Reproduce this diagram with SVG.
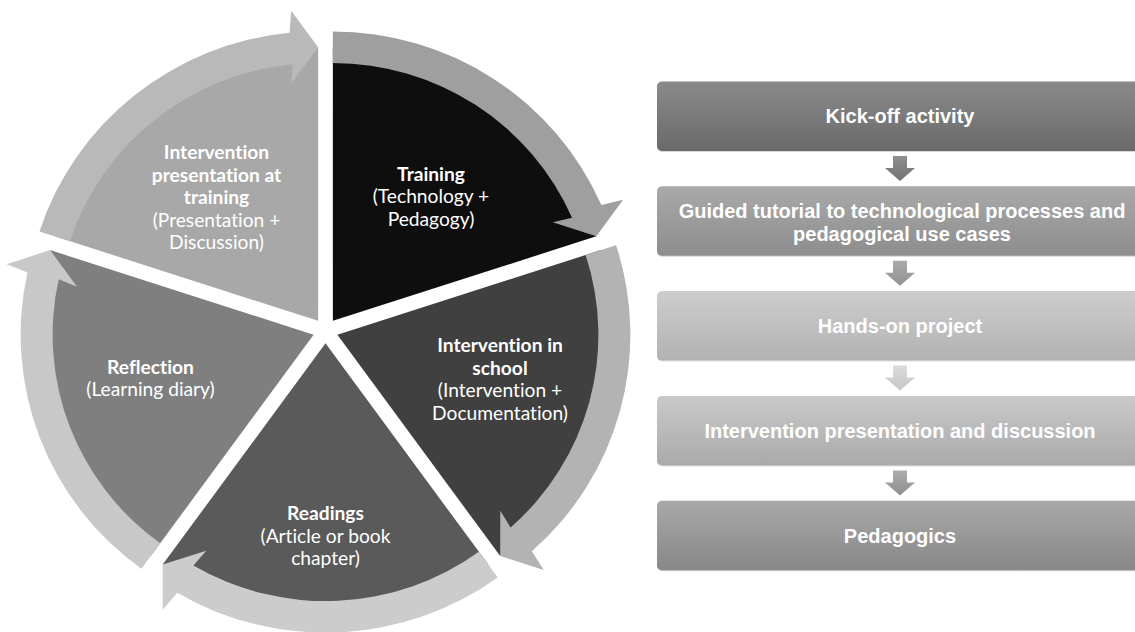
<svg xmlns="http://www.w3.org/2000/svg" xmlns:xlink="http://www.w3.org/1999/xlink" width="1135" height="632" viewBox="0 0 1135 632">
  <style>
    .wl { font-family: Lato, "Liberation Sans", sans-serif; font-size: 19.2px; fill: #ffffff; text-anchor: middle; font-variant-ligatures: none; }
    .b { font-weight: 700; }
    .bt { font-family: "Liberation Sans", Arial, sans-serif; font-weight: 700; font-size: 20px; fill: #ffffff; text-anchor: middle; }
  </style>
  <defs>
    <linearGradient id="g1" x1="0" y1="0" x2="0" y2="1"><stop offset="0" stop-color="#8a8a8a"/><stop offset="1" stop-color="#6a6a6a"/></linearGradient>
    <linearGradient id="g2" x1="0" y1="0" x2="0" y2="1"><stop offset="0" stop-color="#a9a9a9"/><stop offset="1" stop-color="#8d8d8d"/></linearGradient>
    <linearGradient id="g3" x1="0" y1="0" x2="0" y2="1"><stop offset="0" stop-color="#cdcdcd"/><stop offset="1" stop-color="#b2b2b2"/></linearGradient>
    <linearGradient id="g4" x1="0" y1="0" x2="0" y2="1"><stop offset="0" stop-color="#c9c9c9"/><stop offset="1" stop-color="#aaaaaa"/></linearGradient>
    <linearGradient id="g5" x1="0" y1="0" x2="0" y2="1"><stop offset="0" stop-color="#a8a8a8"/><stop offset="1" stop-color="#888888"/></linearGradient>
    <linearGradient id="ga1" x1="0" y1="0" x2="0" y2="1"><stop offset="0" stop-color="#8e8e8e"/><stop offset="1" stop-color="#727272"/></linearGradient>
    <linearGradient id="ga2" x1="0" y1="0" x2="0" y2="1"><stop offset="0" stop-color="#ababab"/><stop offset="1" stop-color="#929292"/></linearGradient>
    <linearGradient id="ga3" x1="0" y1="0" x2="0" y2="1"><stop offset="0" stop-color="#dcdcdc"/><stop offset="1" stop-color="#c6c6c6"/></linearGradient>
    <linearGradient id="ga4" x1="0" y1="0" x2="0" y2="1"><stop offset="0" stop-color="#adadad"/><stop offset="1" stop-color="#8f8f8f"/></linearGradient>
    <!-- downward block arrow of the step list -->
    <path id="darrow" d="M-7,0 H7 V12 H15 L0,25 L-15,12 H-7 Z"/>
  </defs>

  <rect width="1135" height="632" fill="#ffffff"/>

  <!-- Segmented cycle: five exploded pie segments -->
  <g id="cycle-nodes">
    <g id="node-training">
      <path transform="matrix(1 0 0 0.988 0 0.372)" fill="#0e0e0e" d="M332.85,324.39 L332.85,47.39 A277,277 0 0 1 596.29,238.79 Z"/>
      <text class="wl"><tspan class="b" x="431" y="180.5">Training</tspan><tspan x="431" y="203">(Technology +</tspan><tspan x="431" y="225.5">Pedagogy)</tspan></text>
    </g>
    <g id="node-school">
      <path transform="matrix(1 0 0 0.988 0 0.372)" fill="#404040" d="M337.39,338.36 L600.83,252.76 A277,277 0 0 1 500.21,562.46 Z"/>
      <text class="wl"><tspan class="b" x="500" y="352">Intervention in</tspan><tspan class="b" x="500" y="374.5">school</tspan><tspan x="500" y="397">(Intervention +</tspan><tspan x="500" y="419.5">Documentation)</tspan></text>
    </g>
    <g id="node-readings">
      <path transform="matrix(1 0 0 0.988 0 0.372)" fill="#5a5a5a" d="M325.5,347 L488.32,571.10 A277,277 0 0 1 162.68,571.10 Z"/>
      <text class="wl"><tspan class="b" x="325.5" y="520">Readings</tspan><tspan x="325.5" y="542.5">(Article or book</tspan><tspan x="325.5" y="565">chapter)</tspan></text>
    </g>
    <g id="node-reflection">
      <path transform="matrix(1 0 0 0.988 0 0.372)" fill="#7f7f7f" d="M313.61,338.36 L150.79,562.46 A277,277 0 0 1 50.17,252.76 Z"/>
      <text class="wl"><tspan class="b" x="150.5" y="373.5">Reflection</tspan><tspan x="150.5" y="396">(Learning diary)</tspan></text>
    </g>
    <g id="node-presentation">
      <path transform="matrix(1 0 0 0.988 0 0.372)" fill="#a8a8a8" d="M318.15,324.39 L54.71,238.79 A277,277 0 0 1 318.15,47.39 Z"/>
      <text class="wl"><tspan class="b" x="216.5" y="159">Intervention</tspan><tspan class="b" x="216.5" y="181.5">presentation at</tspan><tspan class="b" x="216.5" y="204">training</tspan><tspan x="216.5" y="226.5">(Presentation +</tspan><tspan x="216.5" y="249">Discussion)</tspan></text>
    </g>
  </g>

  <!-- Curved arrows around each segment -->
  <g id="cycle-connectors" transform="matrix(1 0 0 0.988 0 0.372)">
    <path fill="#9f9f9f" d="M332.85,31.39 A293,293 0 0 1 601.38,207.16 L623.14,201.68 L596.29,238.79 L552.76,224.54 L572.05,219.96 A261,261 0 0 0 332.85,63.39 Z"/>
    <path fill="#b3b3b3" d="M616.05,247.82 A293,293 0 0 1 531.86,557.52 L543.80,576.52 L500.21,562.46 L500.30,516.66 L510.62,533.58 A261,261 0 0 0 585.62,257.71 Z"/>
    <path fill="#cccccc" d="M497.72,584.04 A293,293 0 0 1 177.17,599.68 L162.77,616.90 L162.68,571.10 L206.27,557.04 L193.37,572.08 A261,261 0 0 0 478.91,558.15 Z"/>
    <path fill="#c8c8c8" d="M141.39,575.40 A293,293 0 0 1 27.46,275.37 L6.64,267.01 L50.17,252.76 L77.02,289.87 L58.71,282.25 A261,261 0 0 0 160.20,549.51 Z"/>
    <path fill="#b9b9b9" d="M39.49,233.85 A293,293 0 0 1 289.63,32.78 L291.15,10.39 L318.15,47.39 L291.15,84.39 L292.75,64.63 A261,261 0 0 0 69.92,243.74 Z"/>
  </g>

  <!-- Step list -->
  <g id="step-kickoff">
    <rect x="657" y="82.5" width="486" height="69.5" rx="5" fill="#d4d4d4"/>
    <rect x="657" y="81.5" width="486" height="69.5" rx="5" fill="url(#g1)"/>
    <text class="bt" x="900" y="123.3">Kick-off activity</text>
  </g>
  <g id="step-tutorial">
    <rect x="657" y="187.3" width="486" height="69.5" rx="5" fill="#d4d4d4"/>
    <rect x="657" y="186.3" width="486" height="69.5" rx="5" fill="url(#g2)"/>
    <text class="bt"><tspan x="902" y="218">Guided tutorial to technological processes and</tspan><tspan x="902" y="241">pedagogical use cases</tspan></text>
  </g>
  <g id="step-handson">
    <rect x="657" y="292.1" width="486" height="69.5" rx="5" fill="#e2e2e2"/>
    <rect x="657" y="291.1" width="486" height="69.5" rx="5" fill="url(#g3)"/>
    <text class="bt" x="900" y="332.9">Hands-on project</text>
  </g>
  <g id="step-presentation">
    <rect x="657" y="396.9" width="486" height="69.5" rx="5" fill="#e2e2e2"/>
    <rect x="657" y="395.9" width="486" height="69.5" rx="5" fill="url(#g4)"/>
    <text class="bt" x="900" y="437.7">Intervention presentation and discussion</text>
  </g>
  <g id="step-pedagogics">
    <rect x="657" y="501.7" width="486" height="69.5" rx="5" fill="#d4d4d4"/>
    <rect x="657" y="500.7" width="486" height="69.5" rx="5" fill="url(#g5)"/>
    <text class="bt" x="900" y="542.5">Pedagogics</text>
  </g>

  <g id="step-connectors">
    <use xlink:href="#darrow" x="900" y="156" fill="url(#ga1)"/>
    <use xlink:href="#darrow" x="900" y="260.8" fill="url(#ga2)"/>
    <use xlink:href="#darrow" x="900" y="365.6" fill="url(#ga3)"/>
    <use xlink:href="#darrow" x="900" y="470.4" fill="url(#ga4)"/>
  </g>
</svg>
